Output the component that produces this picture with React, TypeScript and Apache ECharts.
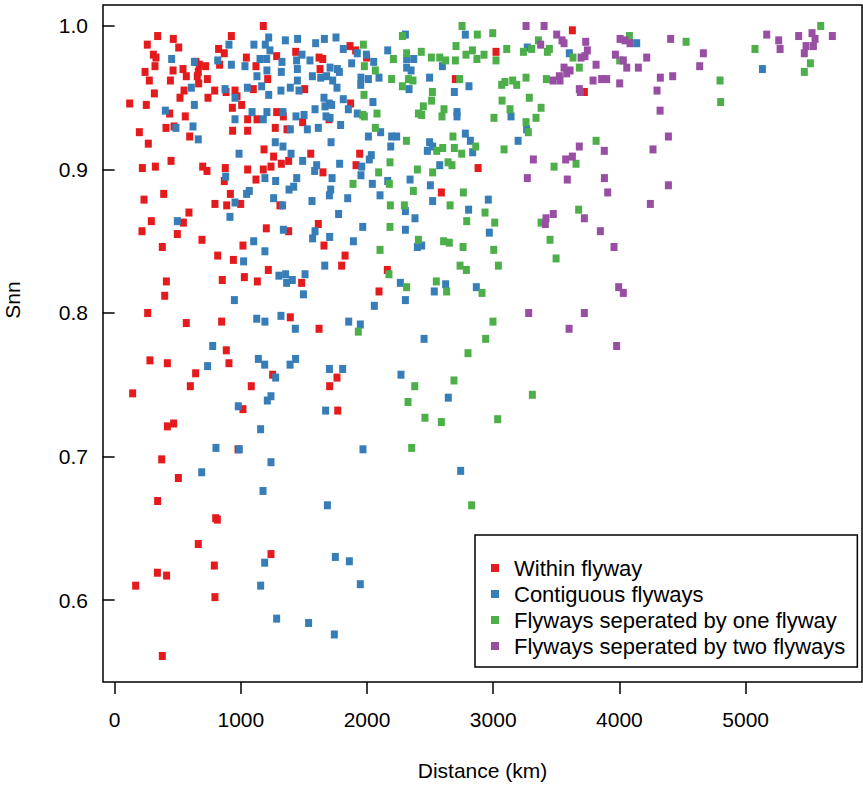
import React, { useEffect, useRef } from "react";
import * as echarts from "echarts";

const xTicks = [0, 1000, 2000, 3000, 4000, 5000];
const yTicks = [0.6, 0.7, 0.8, 0.9, 1.0];
const seriesNames = [
  "Within flyway",
  "Contiguous flyways",
  "Flyways seperated by one flyway",
  "Flyways seperated by two flyways",
];
const seriesColors = ["#E41A1C", "#377EB8", "#4DAF4A", "#984EA3"];

const withinFlyway: number[][] = [
  [1178,1.000],[341,0.993],[465,0.991],[925,0.993],[259,0.987],[508,0.985],[824,0.984],[307,0.980],[328,0.978],[869,0.981],
  [1435,0.982],[1044,0.978],[1284,0.979],[241,0.968],[320,0.972],[463,0.969],[542,0.970],[568,0.965],[645,0.975],[671,0.973],
  [663,0.968],[655,0.965],[666,0.960],[721,0.972],[735,0.963],[832,0.973],[1120,0.972],[1213,0.963],[275,0.962],[442,0.962],
  [315,0.953],[550,0.955],[518,0.950],[740,0.950],[793,0.955],[883,0.954],[954,0.955],[970,0.951],[1007,0.945],[933,0.943],
  [1099,0.956],[119,0.946],[251,0.945],[436,0.939],[560,0.937],[471,0.930],[407,0.929],[196,0.926],[595,0.923],[935,0.927],
  [1054,0.927],[1054,0.935],[1128,0.935],[1284,0.940],[1337,0.937],[1273,0.929],[1366,0.928],[267,0.918],[1184,0.914],[1260,0.909],
  [1321,0.904],[1379,0.906],[220,0.901],[323,0.902],[447,0.906],[698,0.902],[732,0.899],[877,0.901],[1054,0.900],[1178,0.900],
  [1239,0.902],
  [1865,0.986],[1910,0.983],[1997,0.978],[1620,0.978],[1649,0.977],[1628,0.970],[1506,0.956],[1870,0.946],[1699,0.935],[1490,0.933],
  [2700,0.963],[1554,0.911],[1942,0.911],[1913,0.903],[1651,0.898],[2880,0.901],
  [3627,0.997],[3022,0.982],[3722,0.954],
  [869,0.892],[1120,0.893],[233,0.879],[389,0.883],[917,0.883],[795,0.876],[888,0.875],[999,0.876],[1310,0.875],[589,0.870],
  [291,0.864],[545,0.863],[217,0.857],[497,0.855],[1202,0.859],[1379,0.857],[378,0.846],[692,0.851],[1017,0.847],[817,0.840],
  [941,0.837],[1218,0.830],[410,0.822],[853,0.823],[1028,0.825],[1131,0.822],[397,0.812],[262,0.800],[568,0.793],[848,0.794],
  [1392,0.797],
  [2589,0.884],[1614,0.862],[1659,0.847],[1826,0.840],[1799,0.833],[2161,0.830],[1482,0.821],[2095,0.815],[1620,0.789],
  [885,0.774],[280,0.767],[418,0.765],[906,0.765],[642,0.758],[1252,0.757],[600,0.749],[1083,0.749],[143,0.744],[1017,0.733],
  [418,0.721],[468,0.723],[978,0.705],[373,0.698],[505,0.685],[341,0.669],
  [1762,0.755],[1704,0.749],[1768,0.732],
  [801,0.657],[814,0.656],[663,0.639],[1239,0.632],[339,0.619],[412,0.617],[790,0.624],[167,0.610],[795,0.602],[378,0.561],
];

const contiguousFlyways: number[][] = [
  [1221,0.992],[1353,0.990],[1450,0.991],[906,0.987],[1104,0.987],[1194,0.987],[1231,0.983],[452,0.977],[632,0.975],[817,0.976],
  [925,0.973],[1033,0.972],[1152,0.977],[1205,0.977],[1326,0.975],[1442,0.976],[1128,0.965],[1207,0.969],[1321,0.968],[1448,0.970],
  [1448,0.962],[608,0.957],[875,0.956],[1052,0.957],[1165,0.958],[1221,0.952],[1318,0.955],[1392,0.957],[1461,0.955],[632,0.945],
  [402,0.941],[954,0.950],[1089,0.940],[1178,0.935],[1207,0.940],[1334,0.940],[954,0.935],[1437,0.937],[486,0.929],[621,0.930],
  [663,0.921],[986,0.911],[1273,0.919],[1334,0.916],[1398,0.911],[1392,0.928],
  [1662,0.991],[1754,0.992],[1593,0.988],[1812,0.984],[1923,0.981],[1995,0.980],[2164,0.983],[2304,0.994],[2779,0.994],[1485,0.980],
  [1548,0.976],[2053,0.975],[2314,0.977],[2370,0.977],[2314,0.971],[2349,0.969],[2597,0.972],[1567,0.965],[1633,0.964],[1680,0.965],
  [1728,0.962],[1707,0.971],[1765,0.970],[1781,0.968],[1878,0.974],[1952,0.964],[2011,0.963],[1950,0.959],[2095,0.964],[2333,0.956],
  [2496,0.964],[2808,0.958],[2692,0.954],[1762,0.957],[1659,0.950],[1701,0.946],[1720,0.945],[1667,0.944],[1812,0.949],[1588,0.942],
  [1852,0.942],[1923,0.939],[2047,0.947],[1675,0.937],[1707,0.936],[1501,0.938],[1614,0.929],[1527,0.928],[1791,0.931],[2713,0.940],
  [2713,0.937],[2011,0.923],[2108,0.926],[2195,0.923],[2235,0.923],[2188,0.916],[2496,0.919],[2478,0.913],[2520,0.916],[2779,0.925],
  [2819,0.920],[2837,0.912],[1715,0.919],[1490,0.906],[2034,0.910],[2018,0.907],[1783,0.904],[1601,0.903],[1585,0.899],[1958,0.902],
  [2576,0.903],
  [3270,0.985],[4137,0.988],[3603,0.981],[3141,0.937],[3265,0.928],[3197,0.920],
  [5133,0.970],
  [880,0.895],[1191,0.894],[1276,0.892],[1443,0.894],[1046,0.883],[1067,0.885],[954,0.877],[914,0.867],[1260,0.880],[1331,0.875],
  [1382,0.886],[1419,0.888],[497,0.864],[1337,0.858],[1102,0.850],[1191,0.843],[1022,0.836],[1302,0.826],[1355,0.827],[1363,0.821],
  [1408,0.823],[949,0.809],[1126,0.796],[1191,0.794],[1318,0.798],[1432,0.789],
  [1723,0.894],[1952,0.896],[2042,0.890],[2341,0.893],[2164,0.892],[2502,0.889],[1712,0.886],[1702,0.882],[1564,0.878],[1847,0.880],
  [2103,0.882],[2520,0.878],[2805,0.872],[2961,0.879],[2304,0.871],[2380,0.866],[1775,0.869],[1966,0.860],[2304,0.858],[1588,0.857],
  [1569,0.852],[1704,0.853],[1892,0.850],[2399,0.846],[2433,0.847],[2969,0.856],[1665,0.833],[1509,0.827],[1496,0.813],[2264,0.821],
  [2623,0.820],[2533,0.815],[2866,0.818],[2304,0.809],[2058,0.805],[1855,0.794],[1947,0.792],[2452,0.782],
  [777,0.777],[737,0.763],[1139,0.768],[1189,0.764],[1434,0.768],[1390,0.764],[1276,0.755],[1239,0.742],[1210,0.739],[980,0.735],
  [1157,0.719],[803,0.706],[988,0.705],[1239,0.696],[690,0.689],[1176,0.676],
  [1702,0.761],[1807,0.761],[2269,0.757],[2644,0.741],[1672,0.732],[1968,0.705],[2742,0.690],[1686,0.666],
  [1189,0.626],[1157,0.610],[1749,0.630],[1860,0.627],[1947,0.611],[1284,0.587],[1537,0.584],[1741,0.576],
];

const separatedByOne: number[][] = [
  [2753,1.000],[2280,0.993],[2874,0.994],[1971,0.987],[2705,0.986],[2784,0.980],[2835,0.983],[2927,0.980],[2871,0.977],[2430,0.982],
  [2314,0.981],[2510,0.978],[2576,0.978],[2623,0.976],[2700,0.976],[2209,0.977],[1979,0.972],[2066,0.969],[2195,0.963],[2280,0.958],
  [2328,0.963],[2364,0.962],[2734,0.963],[1976,0.952],[2518,0.954],[2512,0.948],[2446,0.944],[2407,0.939],[2433,0.938],[2610,0.942],
  [2594,0.937],[1966,0.938],[1979,0.937],[2079,0.939],[2066,0.929],[2312,0.920],[2681,0.923],[2692,0.915],[2600,0.915],[2552,0.913],
  [2750,0.911],[2861,0.916],[2642,0.905],[2673,0.903],[2182,0.905],[2399,0.900],[2092,0.898],[2520,0.898],
  [2996,0.995],[3358,0.990],[3107,0.984],[3239,0.982],[3305,0.984],[3445,0.984],[3429,0.982],[3022,0.976],[3632,0.978],[4002,0.976],
  [4079,0.993],[3682,0.971],[3260,0.964],[3421,0.963],[3067,0.959],[3093,0.961],[3154,0.962],[3186,0.959],[3070,0.948],[3286,0.950],
  [3379,0.943],[3133,0.942],[3006,0.936],[3339,0.936],[3260,0.933],[3278,0.926],[3815,0.920],[3086,0.914],[3656,0.904],[3482,0.902],
  [5595,1.000],[4528,0.989],[5074,0.984],[5513,0.974],[5465,0.968],[4797,0.962],[4802,0.947],
  [1889,0.890],[2177,0.890],[2367,0.885],[2763,0.884],[2185,0.875],[2296,0.875],[2658,0.875],[2935,0.870],[2790,0.864],[2182,0.860],
  [2407,0.851],[2607,0.850],[2652,0.849],[2761,0.846],[2103,0.844],[2737,0.833],[2787,0.830],[2174,0.827],[2314,0.818],[2549,0.822],
  [2631,0.815],[2911,0.814],[1931,0.787],[2940,0.782],
  [3677,0.872],[3379,0.863],[3450,0.851],[3498,0.838],[3012,0.863],[3004,0.844],[3041,0.833],[2998,0.794],
  [2800,0.772],[2378,0.749],[2689,0.753],[2325,0.738],[2459,0.727],[2589,0.724],[2354,0.706],[2829,0.666],
  [3310,0.743],[3035,0.726],
];

const separatedByTwo: number[][] = [
  [3260,1.000],[3403,1.000],[3503,0.994],[3545,0.990],[3561,0.988],[3376,0.987],[3733,0.989],[3746,0.983],[4005,0.991],[4044,0.990],
  [4084,0.988],[4406,0.991],[3968,0.980],[4031,0.976],[4216,0.978],[3696,0.978],[3727,0.979],[3815,0.973],[3561,0.971],[3609,0.969],
  [3582,0.967],[3524,0.965],[3529,0.962],[3474,0.962],[4058,0.971],[4150,0.971],[3791,0.962],[3859,0.963],[3899,0.963],[4002,0.960],
  [3682,0.956],[3690,0.954],[4324,0.964],[4422,0.965],[4298,0.955],[4322,0.941],[4388,0.923],[4266,0.914],[3682,0.916],[3880,0.913],
  [3318,0.907],[3574,0.907],[3627,0.909],
  [5167,0.994],[5262,0.990],[5273,0.984],[5420,0.993],[5526,0.995],[5550,0.991],[5479,0.986],[5465,0.981],[5537,0.986],[5687,0.993],
  [4665,0.981],[4636,0.972],
  [3270,0.894],[3587,0.893],[3881,0.894],[3907,0.884],[4388,0.889],[4245,0.876],[3476,0.869],[3418,0.866],[3413,0.862],[3722,0.866],
  [3849,0.857],[3957,0.846],[3994,0.818],[4031,0.814],[3281,0.800],[3722,0.800],[3601,0.789],
  [3978,0.777],
];

const seriesData = [withinFlyway, contiguousFlyways, separatedByOne, separatedByTwo];

const FONT = "'Liberation Sans', Arial, Helvetica, sans-serif";

export default function App() {
  const ref = useRef<HTMLDivElement>(null);
  useEffect(() => {
    if (!ref.current) return;
    const chart = echarts.init(ref.current, null, { renderer: "svg" });
    chart.setOption({
      animation: false,
      backgroundColor: "#fff",
      grid: {
        left: 103,
        right: 1,
        top: 5,
        bottom: 110,
        show: true,
        borderColor: "#000",
        borderWidth: 1.5,
        backgroundColor: "transparent",
      },
      xAxis: {
        type: "value",
        min: -92,
        max: 5922,
        axisLine: { show: false },
        splitLine: { show: false },
        axisTick: { show: true, customValues: xTicks, length: 12, lineStyle: { color: "#000", width: 1.5 } },
        axisLabel: {
          customValues: xTicks,
          margin: 27,
          fontSize: 21,
          color: "#000",
          fontFamily: FONT,
          formatter: (v: number) => String(v),
        },
        name: "Distance (km)",
        nameLocation: "middle",
        nameGap: 78,
        nameTextStyle: { fontSize: 21, color: "#000", fontFamily: FONT },
      },
      yAxis: {
        type: "value",
        min: 0.54286,
        max: 1.01463,
        axisLine: { show: false },
        splitLine: { show: false },
        axisTick: { show: true, customValues: yTicks, length: 12, lineStyle: { color: "#000", width: 1.5 } },
        axisLabel: {
          customValues: yTicks,
          margin: 15,
          fontSize: 21,
          color: "#000",
          fontFamily: FONT,
          formatter: (v: number) => v.toFixed(1),
        },
      },
      graphic: [
        {
          type: "text",
          x: 12,
          y: 300,
          rotation: Math.PI / 2,
          style: {
            text: "Snn",
            fontSize: 21,
            fontFamily: FONT,
            fill: "#000",
            align: "center",
            verticalAlign: "middle",
          },
        },
      ],
      legend: {
        orient: "vertical",
        left: 475,
        top: 535,
        padding: [22, 12, 10, 16],
        itemWidth: 8,
        itemHeight: 8,
        itemGap: 4,
        icon: "rect",
        borderColor: "#000",
        borderWidth: 1.5,
        backgroundColor: "#fff",
        selectedMode: false,
        textStyle: { fontSize: 22, lineHeight: 22, color: "#000", fontFamily: FONT, padding: [0, 0, 0, 10] },
        data: seriesNames,
      },
      series: seriesData.map((d, i) => ({
        name: seriesNames[i],
        type: "scatter",
        data: d,
        symbol: "rect",
        symbolSize: [7, 8],
        itemStyle: { color: seriesColors[i], opacity: 1 },
        emphasis: { disabled: true },
      })),
    });
    return () => chart.dispose();
  }, []);
  return (
    <div
      ref={ref}
      style={{ position: "absolute", left: 0, top: 0, width: 863, height: 792 }}
    />
  );
}
